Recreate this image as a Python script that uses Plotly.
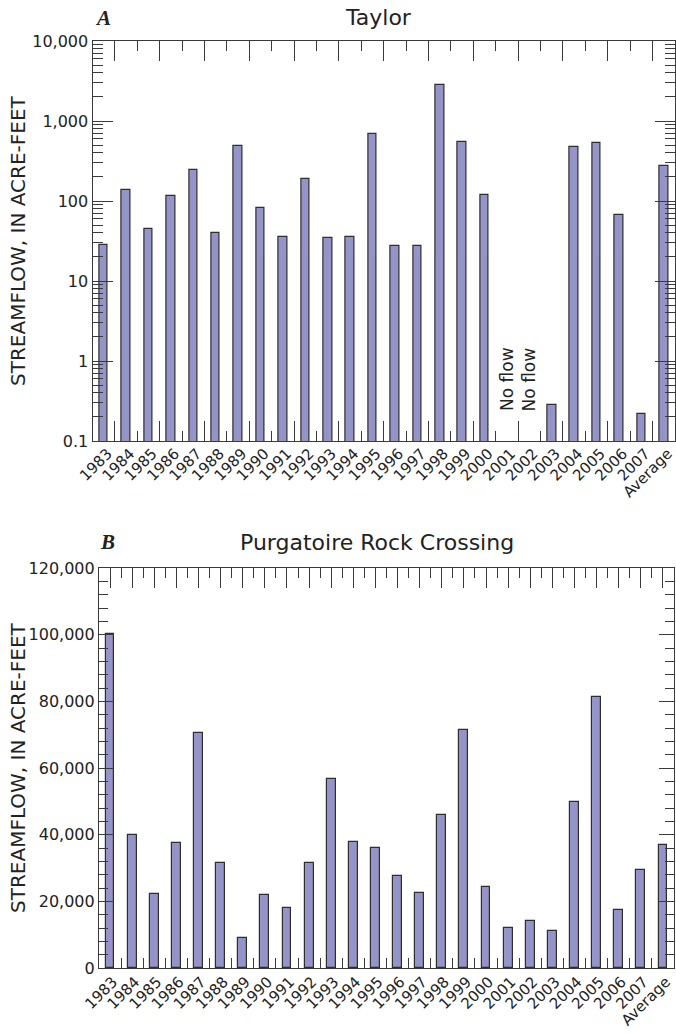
import plotly.graph_objects as go

# ---------------- data ----------------
years = [str(y) for y in range(1983, 2008)] + ["Average"]
taylor = [28, 136, 45, 117, 244, 40, 492, 81, 36, 188, 34, 35, 681, 27, 27,
          2820, 541, 120, None, None, 0.28, 469, 531, 66, 0.22, 271]
purgatoire = [100100, 39800, 22100, 37400, 70600, 31400, 9000, 21900, 17900,
              31600, 56700, 37900, 36100, 27500, 22600, 45900, 71400, 24400,
              12100, 14200, 11200, 49800, 81200, 17300, 29500, 36800]
no_flow_years = ["2001", "2002"]
log_tick_vals = [0.1, 1, 10, 100, 1000, 10000]
log_tick_text = ["0.1", "1", "10", "100", "1,000", "10,000"]
lin_tick_vals = [0, 20000, 40000, 60000, 80000, 100000, 120000]
lin_tick_text = ["0", "20,000", "40,000", "60,000", "80,000", "100,000", "120,000"]

# ---------------- styling ----------------
W, H = 676, 1033
FONT = "DejaVu Sans"
BAR_FILL = "#9494C8"
BAR_LINE = "#2e2e2e"
AX = "#3a3a3a"
TXT = "#222222"
YEAR_FONT = dict(family=FONT, size=15, color=TXT)
LABEL_SHIFT = 4

def fx(px):
    return px / W

def fy(px):
    return 1 - px / H

n = len(years)
idx = list(range(n))
xr = [-0.5, n - 0.5]
bounds_odd = [k - 0.5 for k in range(1, n + 1, 2)]
bounds_even = [k - 0.5 for k in range(2, n, 2)]
bounds_all = [k - 0.5 for k in range(1, n)]
log_minor = [m * 10 ** e for e in range(-1, 4) for m in range(2, 10)]
lin_minor = list(range(0, 120001, 4000))

A_dom_x = [fx(92.5), fx(675)]
A_dom_y = [fy(441), fy(41)]
B_dom_x = [fx(99), fx(674)]
B_dom_y = [fy(968), fy(568)]

fig = go.Figure()

fig.add_trace(go.Bar(
    x=idx, y=taylor, width=0.38, xaxis="x", yaxis="y",
    marker=dict(color=BAR_FILL, line=dict(color=BAR_LINE, width=1.2)),
    showlegend=False, hoverinfo="skip"))
# invisible companion so the label axis (x2) gets its own subplot
fig.add_trace(go.Scatter(
    x=idx, y=taylor, xaxis="x2", yaxis="y", mode="none",
    showlegend=False, hoverinfo="skip"))

fig.add_trace(go.Bar(
    x=idx, y=purgatoire, width=0.40, xaxis="x3", yaxis="y2",
    marker=dict(color=BAR_FILL, line=dict(color=BAR_LINE, width=1.2)),
    showlegend=False, hoverinfo="skip"))

common_axis = dict(showgrid=False, zeroline=False, linecolor=AX, linewidth=1.2,
                   tickcolor=AX, tickwidth=1.1, automargin=False,
                   tickfont=dict(family=FONT, size=16, color=TXT))

fig.update_layout(
    template="none",
    width=W, height=H,
    margin=dict(l=0, r=0, t=0, b=0, pad=0),
    paper_bgcolor="white", plot_bgcolor="white",
    bargap=0,
    font=dict(family=FONT, color=TXT),
    # ---- panel A ----
    xaxis=dict(domain=A_dom_x, anchor="y", range=xr, showline=True, mirror="ticks",
               tickmode="array", tickvals=bounds_odd, ticks="inside", ticklen=20,
               showticklabels=False,
               minor=dict(tickmode="array", tickvals=bounds_even, ticks="inside",
                          ticklen=10, tickcolor=AX, tickwidth=1.1),
               **common_axis),
    xaxis2=dict(overlaying="x", anchor="y", side="bottom", range=xr, showline=False,
                tickmode="array", tickvals=idx, ticktext=years, ticks="",
                tickangle=-45, showgrid=False, zeroline=False, automargin=False,
                ticklabelshift=LABEL_SHIFT, ticklabeloverflow="allow",
                tickfont=YEAR_FONT),
    yaxis=dict(domain=A_dom_y, anchor="x", type="log", range=[-1, 4],
               showline=True, mirror="ticks",
               tickmode="array", tickvals=log_tick_vals, ticktext=log_tick_text,
               ticks="inside", ticklen=20,
               minor=dict(tickmode="array", tickvals=log_minor, ticks="inside",
                          ticklen=10, tickcolor=AX, tickwidth=1.1),
               **common_axis),
    # ---- panel B ----
    xaxis3=dict(domain=B_dom_x, anchor="y2", range=xr, showline=True, mirror="ticks",
                layer="below traces",
                tickmode="array", tickvals=idx, ticktext=years, ticks="inside",
                ticklen=20, tickangle=-45, ticklabelshift=LABEL_SHIFT - 1,
                ticklabelstandoff=-2, ticklabeloverflow="allow",
                minor=dict(tickmode="array", tickvals=bounds_all, ticks="inside",
                           ticklen=10, tickcolor=AX, tickwidth=1.1),
                showgrid=False, zeroline=False, linecolor=AX, linewidth=1.2,
                tickcolor=AX, tickwidth=1.1, automargin=False,
                tickfont=YEAR_FONT),
    yaxis2=dict(domain=B_dom_y, anchor="x3", range=[0, 120000],
                showline=True, mirror="ticks",
                tickmode="array", tickvals=lin_tick_vals, ticktext=lin_tick_text,
                ticks="inside", ticklen=15,
                minor=dict(tickmode="array", tickvals=lin_minor, ticks="inside",
                           ticklen=9, tickcolor=AX, tickwidth=1.1),
                **common_axis),
)

ann = []
# panel letters and titles
ann.append(dict(text="<b><i>A</i></b>", x=fx(93), y=fy(18), xref="paper", yref="paper",
                xanchor="left", yanchor="middle", showarrow=False,
                font=dict(family="Liberation Serif", size=21, color=TXT)))
ann.append(dict(text="Taylor", x=fx(378), y=fy(17), xref="paper", yref="paper",
                xanchor="center", yanchor="middle", showarrow=False,
                font=dict(family=FONT, size=22, color=TXT)))
ann.append(dict(text="<b><i>B</i></b>", x=fx(98), y=fy(542), xref="paper", yref="paper",
                xanchor="left", yanchor="middle", showarrow=False,
                font=dict(family="Liberation Serif", size=21, color=TXT)))
ann.append(dict(text="Purgatoire Rock Crossing", x=fx(377), y=fy(542), xref="paper",
                yref="paper", xanchor="center", yanchor="middle", showarrow=False,
                font=dict(family=FONT, size=22, color=TXT)))
# y-axis titles
for ymid in [(41 + 441) / 2, (568 + 968) / 2]:
    ann.append(dict(text="STREAMFLOW, IN ACRE-FEET", x=fx(18), y=fy(ymid),
                    xref="paper", yref="paper", xanchor="center", yanchor="middle",
                    textangle=-90, showarrow=False,
                    font=dict(family=FONT, size=20, color=TXT)))
# "No flow" notes
for yr in no_flow_years:
    ann.append(dict(text="No flow", x=years.index(yr), y=-0.65, xref="x", yref="y",
                    xanchor="center", yanchor="bottom", textangle=-90, showarrow=False,
                    font=dict(family=FONT, size=17, color=TXT)))

fig.update_layout(annotations=ann)

fig.write_html("out.html")
